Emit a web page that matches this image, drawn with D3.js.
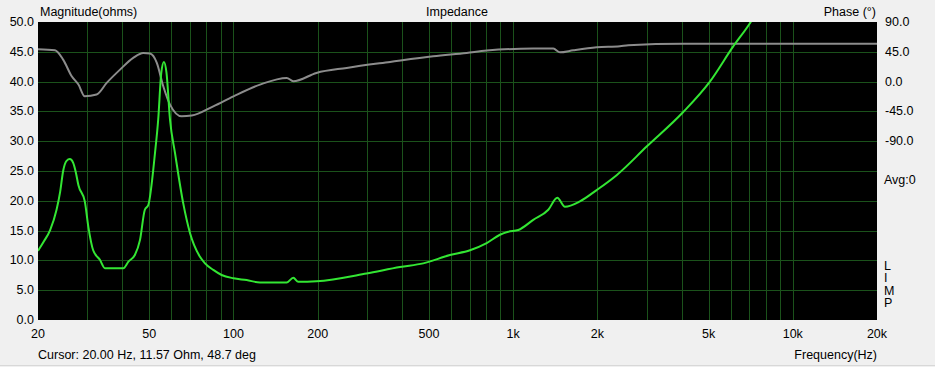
<!DOCTYPE html>
<html>
<head>
<meta charset="utf-8">
<script src="https://cdn.jsdelivr.net/npm/d3@7"></script>
<style>
  html, body { margin: 0; padding: 0; background: #f0f0f0; }
  svg { display: block; font-family: Arial, "Liberation Sans", sans-serif; }
</style>
</head>
<body>
<svg id="chart" width="935" height="367"></svg>
<script>
// impedance magnitude (Hz, ohms)
const magFreq = [20, 21.0, 22.1, 23.3, 24.0, 24.6, 25.3, 26.0, 26.7, 27.3, 27.9, 29.4, 30.3, 31.5, 33.3, 34.7, 37.2, 40.4, 42.1, 44.4, 46.3, 48.2, 49.6, 52.4, 53.8, 55.2, 56.4, 57.6, 59.3, 61.8, 66.1, 69.9, 75.9, 79.1, 84.7, 90.7, 100, 111.5, 124.4, 155, 163.6, 170.5, 198, 299, 394, 477, 594, 701, 804, 897, 960, 1043, 1180, 1336, 1438, 1532, 1733, 1989, 2344, 3002, 4057, 5053, 6122, 7025, 7400];
const magOhm  = [11.6, 13.2, 15.1, 18.5, 21.5, 25.0, 26.7, 27.0, 26.4, 24.8, 22.6, 19.9, 15.5, 11.7, 10.1, 8.7, 8.7, 8.7, 9.8, 10.9, 13.4, 18.5, 19.3, 28.0, 33.6, 41.5, 43.3, 41.5, 33.6, 28.0, 19.6, 14.6, 10.6, 9.5, 8.4, 7.55, 7.0, 6.7, 6.3, 6.3, 7.1, 6.4, 6.5, 7.8, 8.9, 9.5, 10.9, 11.7, 12.9, 14.3, 14.8, 15.1, 16.8, 18.5, 20.5, 19.0, 19.9, 21.8, 24.3, 29.1, 34.9, 40.0, 45.9, 49.8, 51.5];

// phase (Hz, degrees)
const phaseFreq = [20, 23.0, 24.6, 26.4, 27.9, 29.4, 32.4, 35.2, 39.3, 43.8, 47.6, 50.3, 53.2, 56.1, 59.3, 65.3, 70.9, 84.7, 100, 124.4, 155, 163.6, 198, 254, 363, 518, 682, 804, 1180, 1392, 1470, 1640, 1989, 2408, 2580, 4057, 20000];
const phaseDeg  = [49.0, 47.3, 33.2, 8.0, -4.5, -22.2, -19.6, -2.0, 18.1, 35.8, 43.3, 42.3, 28.2, -7.1, -34.7, -52.4, -51.3, -37.3, -22.2, -4.5, 5.6, 0.5, 13.1, 20.7, 29.7, 38.2, 43.3, 46.8, 49.8, 49.8, 44.2, 47.3, 51.8, 53.3, 54.8, 57.0, 57.0];

const magTicks = [0, 5, 10, 15, 20, 25, 30, 35, 40, 45, 50];
const phaseTicks = [90, 45, 0, -45, -90];
const freqLabels = [20, 50, 100, 200, 500, 1000, 2000, 5000, 10000, 20000];
const freqGrid = [30, 40, 50, 60, 70, 80, 90, 100, 200, 300, 400, 500, 600, 700, 800, 900,
                  1000, 2000, 3000, 4000, 5000, 6000, 7000, 8000, 9000, 10000];

const svg = d3.select("#chart");
const L = 38, R = 877, T = 22, B = 320;

const x = d3.scaleLog().domain([20, 20000]).range([L, R]);
const y = d3.scaleLinear().domain([0, 50]).range([B, T]);
// phase shares the grid: 90deg at top, 45deg per division
const yp = d3.scaleLinear().domain([-90, 90]).range([y(30), y(50)]);

const fmtHz = d => d >= 1000 ? (d / 1000) + "k" : String(d);

svg.append("rect").attr("x", L).attr("y", T).attr("width", R - L).attr("height", B - T).attr("fill", "#000");

const grid = svg.append("g").attr("stroke", "#1b521b").attr("stroke-width", 1).attr("shape-rendering", "crispEdges");
grid.selectAll("line.v").data(freqGrid).enter().append("line")
  .attr("x1", d => Math.round(x(d)) + 0.5).attr("x2", d => Math.round(x(d)) + 0.5)
  .attr("y1", T).attr("y2", B);
grid.selectAll("line.h").data(magTicks.slice(1, -1)).enter().append("line")
  .attr("x1", L).attr("x2", R)
  .attr("y1", d => Math.round(y(d)) + 0.5).attr("y2", d => Math.round(y(d)) + 0.5);

// clip curves to plot area
svg.append("clipPath").attr("id", "plot").append("rect")
  .attr("x", L).attr("y", T).attr("width", R - L).attr("height", B - T);
const curves = svg.append("g").attr("clip-path", "url(#plot)");

const phaseLine = d3.line().curve(d3.curveMonotoneX).x(d => x(d[0])).y(d => yp(d[1]));
curves.append("path")
  .datum(d3.zip(phaseFreq, phaseDeg))
  .attr("d", phaseLine)
  .attr("fill", "none").attr("stroke", "#8c8c8c").attr("stroke-width", 2);

const magLine = d3.line().curve(d3.curveMonotoneX).x(d => x(d[0])).y(d => y(d[1]));
curves.append("path")
  .datum(d3.zip(magFreq, magOhm))
  .attr("d", magLine)
  .attr("fill", "none").attr("stroke", "#33e633").attr("stroke-width", 2);

// axes text
const txt = svg.append("g").attr("font-size", 12.5).attr("fill", "#000");

txt.selectAll("text.ym").data(magTicks).enter().append("text")
  .attr("x", 34).attr("y", d => y(d) + 4)
  .attr("text-anchor", "end").text(d => d.toFixed(1));

txt.selectAll("text.yp").data(phaseTicks).enter().append("text")
  .attr("x", 885).attr("y", d => yp(d) + 4)
  .text(d => d.toFixed(1));

txt.selectAll("text.xf").data(freqLabels).enter().append("text")
  .attr("x", d => x(d)).attr("y", 338)
  .attr("text-anchor", "middle").text(fmtHz);

txt.append("text").attr("x", 40).attr("y", 16).text("Magnitude(ohms)");
txt.append("text").attr("x", 457).attr("y", 16).attr("text-anchor", "middle").text("Impedance");
txt.append("text").attr("x", 876).attr("y", 16).attr("text-anchor", "end").text("Phase (°)");
txt.append("text").attr("x", 884).attr("y", 184).text("Avg:0");
["L", "I", "M", "P"].forEach((c, i) => {
  txt.append("text").attr("x", 884).attr("y", 270 + i * 12.3).text(c);
});
txt.append("text").attr("x", 38).attr("y", 359).text("Cursor: 20.00 Hz, 11.57 Ohm, 48.7 deg");
txt.append("text").attr("x", 877).attr("y", 359).attr("text-anchor", "end").text("Frequency(Hz)");

svg.append("line").attr("x1", 0).attr("x2", 935).attr("y1", 365.5).attr("y2", 365.5)
  .attr("stroke", "#d8d8d8");
</script>
</body>
</html>
